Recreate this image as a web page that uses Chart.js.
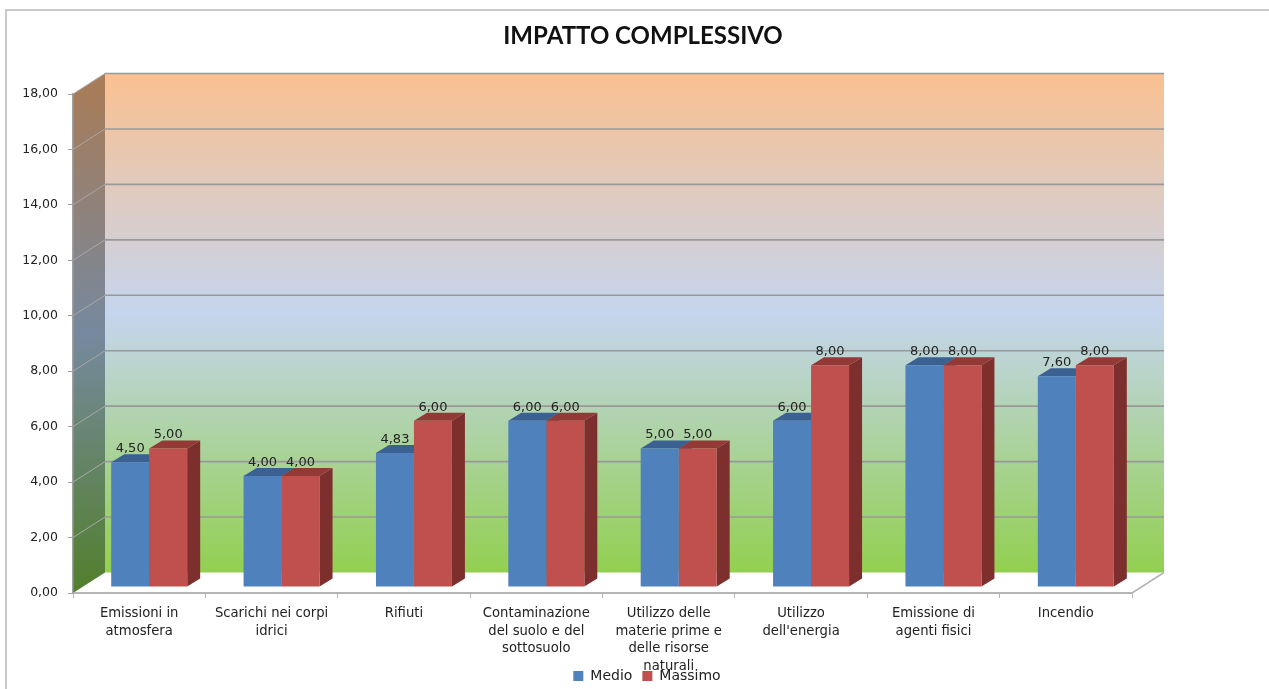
<!DOCTYPE html>
<html>
<head>
<meta charset="utf-8">
<title>Impatto complessivo</title>
<script src="https://cdn.jsdelivr.net/npm/chart.js@4/dist/chart.umd.min.js"></script>
<style>
    body { margin: 0; background: #ffffff; }
    canvas { display: block; }
</style>
</head>
<body>
<canvas id="impattoChart" width="1269" height="689"></canvas>
<script>
// Chart data
var categories = [
    ['Emissioni in', 'atmosfera'],
    ['Scarichi nei corpi', 'idrici'],
    ['Rifiuti'],
    ['Contaminazione', 'del suolo e del', 'sottosuolo'],
    ['Utilizzo delle', 'materie prime e', 'delle risorse', 'naturali'],
    ['Utilizzo', "dell'energia"],
    ['Emissione di', 'agenti fisici'],
    ['Incendio']
];
var medio = [4.5, 4, 4.83, 6, 5, 6, 8, 7.6];
var massimo = [5, 4, 6, 6, 5, 8, 8, 8];
var yMax = 18;
var yStep = 2;

// Depth of the fake 3D box and of the bars, in pixels
var WALL_DX = 32, WALL_DY = -20.5;
var BAR_OX = 10, BAR_OY = -6;
var BAR_DX = 13, BAR_DY = -8;

// Same number format as the original: two decimals with a comma
function formatValue(v) {
    return v.toFixed(2).replace('.', ',');
}

function fillPoly(ctx, pts, fill) {
    ctx.beginPath();
    ctx.moveTo(pts[0][0], pts[0][1]);
    for (var i = 1; i < pts.length; i++) {
        ctx.lineTo(pts[i][0], pts[i][1]);
    }
    ctx.closePath();
    ctx.fillStyle = fill;
    ctx.fill();
}

function strokeLine(ctx, x1, y1, x2, y2, color, width) {
    ctx.beginPath();
    ctx.moveTo(x1, y1);
    ctx.lineTo(x2, y2);
    ctx.strokeStyle = color;
    ctx.lineWidth = width;
    ctx.stroke();
}

// Draws the outer frame, the back wall, the side wall and the floor
var wallsPlugin = {
    id: 'walls',
    afterLayout: function (chart) {
        // Let the last label line run past the axis box, the original overlaps the legend too
        chart.scales.x.bottom = chart.height;
        // The legend sits a little right of the title
        chart.legend.left += 4;
        chart.legend.right += 4;
    },
    beforeDraw: function (chart) {
        var ctx = chart.ctx;
        var x = chart.scales.x, y = chart.scales.y;
        var left = x.left, right = x.right;
        var top = y.getPixelForValue(yMax), bottom = y.getPixelForValue(0);

        ctx.save();

        // Outer frame of the picture
        ctx.beginPath();
        ctx.moveTo(6, chart.height);
        ctx.lineTo(6, 10);
        ctx.lineTo(chart.width, 10);
        ctx.strokeStyle = '#b8b8b8';
        ctx.lineWidth = 1.5;
        ctx.stroke();

        // Back wall
        var back = ctx.createLinearGradient(0, top + WALL_DY, 0, bottom + WALL_DY);
        back.addColorStop(0, '#fac090');
        back.addColorStop(0.48, '#c5d5ee');
        back.addColorStop(1, '#92d050');
        ctx.fillStyle = back;
        ctx.fillRect(left + WALL_DX, top + WALL_DY, right - left, bottom - top);

        // Side wall, the same colours but darker
        var side = ctx.createLinearGradient(0, top, 0, bottom);
        side.addColorStop(0, '#a67c5a');
        side.addColorStop(0.48, '#76899f');
        side.addColorStop(1, '#527f2c');
        fillPoly(ctx, [
            [left, top],
            [left + WALL_DX, top + WALL_DY],
            [left + WALL_DX, bottom + WALL_DY],
            [left, bottom]
        ], side);

        // Grid lines on both walls
        y.ticks.forEach(function (tick) {
            var py = y.getPixelForValue(tick.value);
            if (tick.value > 0) {
                strokeLine(ctx, left + WALL_DX, py + WALL_DY, right + WALL_DX, py + WALL_DY, '#989898', 1.6);
                strokeLine(ctx, left, py, left + WALL_DX, py + WALL_DY, '#a8a8a8', 1);
            }
        });

        // Floor outline on the right
        strokeLine(ctx, right, bottom, right + WALL_DX, bottom + WALL_DY, '#b4b4b4', 1.5);

        ctx.restore();
    }
};

var colorsTop = ['#3a6192', '#933a37'];
var colorsSide = ['#2f5078', '#7c2f2d'];

// Moves every bar into the box and draws its top and side faces
var barsPlugin = {
    id: 'bars3d',
    beforeDatasetsDraw: function (chart) {
        var ctx = chart.ctx;
        ctx.save();
        ctx.translate(BAR_OX, BAR_OY);
        // Chart.js paints the fronts last dataset first, so the faces go in before all of them
        chart.data.datasets.forEach(function (dataset, i) {
            chart.getDatasetMeta(i).data.forEach(function (bar) {
                var half = bar.width / 2;
                var l = bar.x - half, r = bar.x + half;
                fillPoly(ctx, [
                    [r, bar.y],
                    [r + BAR_DX, bar.y + BAR_DY],
                    [r + BAR_DX, bar.base + BAR_DY],
                    [r, bar.base]
                ], colorsSide[i]);
                fillPoly(ctx, [
                    [l, bar.y],
                    [l + BAR_DX, bar.y + BAR_DY],
                    [r + BAR_DX, bar.y + BAR_DY],
                    [r, bar.y]
                ], colorsTop[i]);
            });
        });
        ctx.restore();
    },
    beforeDatasetDraw: function (chart) {
        chart.ctx.save();
        chart.ctx.translate(BAR_OX, BAR_OY);
    },
    afterDatasetDraw: function (chart) {
        chart.ctx.restore();
    },
    // Value labels above the bars
    afterDatasetsDraw: function (chart) {
        var ctx = chart.ctx;
        ctx.save();
        ctx.font = '13px "DejaVu Sans"';
        ctx.fillStyle = '#222222';
        ctx.textAlign = 'center';
        ctx.textBaseline = 'middle';
        chart.data.datasets.forEach(function (dataset, i) {
            chart.getDatasetMeta(i).data.forEach(function (bar, j) {
                ctx.fillText(formatValue(dataset.data[j]), bar.x + BAR_OX, bar.y + BAR_OY - 13.5);
            });
        });
        ctx.restore();
    }
};

var ctx = document.getElementById('impattoChart').getContext('2d');
var impattoChart = new Chart(ctx, {
    type: 'bar',
    data: {
        labels: categories,
        datasets: [{
            label: 'Medio',
            data: medio,
            backgroundColor: '#4f81bd',
            barPercentage: 1,
            categoryPercentage: 0.574,
            clip: false
        }, {
            label: 'Massimo',
            data: massimo,
            backgroundColor: '#c0504d',
            barPercentage: 1,
            categoryPercentage: 0.574,
            clip: false
        }]
    },
    plugins: [wallsPlugin, barsPlugin],
    options: {
        responsive: false,
        animation: false,
        layout: {
            padding: { left: 17, right: 0, top: 10, bottom: -4 }
        },
        plugins: {
            tooltip: { enabled: false },
            title: {
                display: true,
                text: 'IMPATTO COMPLESSIVO',
                color: '#111111',
                font: { family: 'Lato', size: 24, weight: 'bold' },
                padding: { top: 11.6, bottom: 43.6 }
            },
            legend: {
                position: 'bottom',
                labels: {
                    boxWidth: 10,
                    boxHeight: 10,
                    padding: 10,
                    color: '#222222',
                    font: { family: 'DejaVu Sans', size: 14 }
                }
            }
        },
        scales: {
            x: {
                afterFit: function (scale) { scale.height = 66; },
                border: { color: '#b4b4b4', width: 2 },
                grid: { drawOnChartArea: false, color: '#b4b4b4', tickLength: 5 },
                ticks: {
                    autoSkip: false,
                    maxRotation: 0,
                    padding: 7,
                    color: '#222222',
                    font: { family: 'DejaVu Sans', size: 13.2, lineHeight: 1.33 }
                }
            },
            y: {
                min: 0,
                max: yMax,
                afterFit: function (scale) { scale.width = 56; },
                border: { color: '#a0a0a0', width: 1.5 },
                grid: { drawOnChartArea: false, color: '#a0a0a0', tickLength: 5 },
                ticks: {
                    stepSize: yStep,
                    padding: 10,
                    color: '#222222',
                    font: { family: 'DejaVu Sans', size: 12.5 },
                    callback: function (value) { return formatValue(value); }
                }
            },
            // Empty axis, it only keeps the blank space right of the box
            spacer: {
                type: 'linear',
                position: 'right',
                afterFit: function (scale) { scale.width = 137; },
                border: { display: false },
                grid: { display: false },
                ticks: { display: false }
            }
        }
    }
});
</script>
</body>
</html>
